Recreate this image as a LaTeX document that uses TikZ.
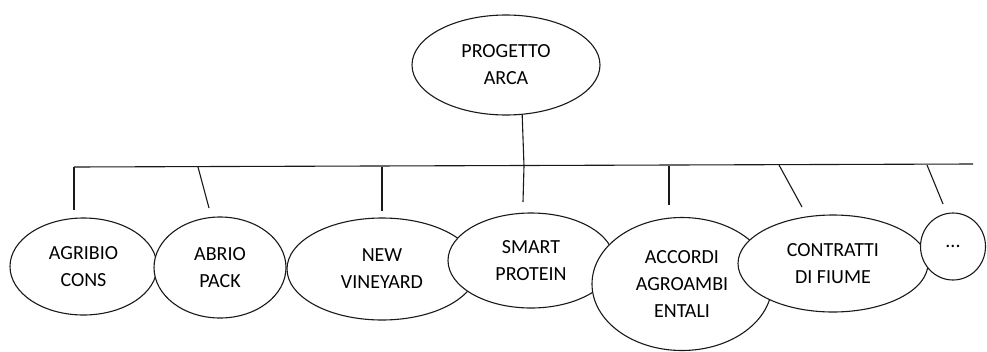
\documentclass[tikz,border=0pt]{standalone}
\usepackage{fontspec}
\setmainfont{Carlito}
\usetikzlibrary{shapes.geometric}
\begin{document}
\begin{tikzpicture}[x=1pt,y=-1pt,
  bubble/.style={ellipse,draw=black!90,line width=1.1pt,fill=white,inner sep=0pt,
    align=center,font=\fontsize{20}{27}\selectfont,text=black},
  link/.style={draw=black!90,line width=1.1pt}]
\useasboundingbox (0,0) rectangle (987,351);

% root of the tree
\node[bubble,minimum width=188pt,minimum height=100pt] (root) at (506,65) {PROGETTO\\ARCA};

% horizontal bar and the points where the drops leave it
\coordinate (barL) at (74,167);
\coordinate (barR) at (973,164);
\coordinate (hub)  at (524,166);
\coordinate (a1) at (74,167);   \coordinate (b1) at (74,210);
\coordinate (a2) at (198,167);  \coordinate (b2) at (209,208);
\coordinate (a3) at (382,167);  \coordinate (b3) at (382,211);
\coordinate (b4) at (523,202);
\coordinate (a5) at (669,166);  \coordinate (b5) at (669,205);
\coordinate (a6) at (779,165);  \coordinate (b6) at (802,207);
\coordinate (a7) at (927,165);  \coordinate (b7) at (943,204);

\draw[link] (barL) -- (barR);
\draw[link] (root.-72) -- (hub) -- (b4);
\draw[link] (a1) -- (b1);
\draw[link] (a2) -- (b2);
\draw[link] (a3) -- (b3);
\draw[link] (a5) -- (b5);
\draw[link] (a6) -- (b6);
\draw[link] (a7) -- (b7);

% children, left to right, each one covering the previous
\node[bubble,minimum width=147pt,minimum height=97pt]  (agribio)   at (83.5,266.5) {AGRIBIO\\CONS};
\node[bubble,minimum width=132pt,minimum height=101pt] (abrio)     at (220,267.5)  {ABRIO\\PACK};
\node[bubble,minimum width=190pt,minimum height=102pt] (vineyard)  at (382,269)    {NEW\\VINEYARD};
\node[bubble,minimum width=166pt,minimum height=95pt]  (protein)   at (531,260.5)  {SMART\\PROTEIN};
\node[bubble,minimum width=180pt,minimum height=133pt] (accordi)   at (682,284)    {ACCORDI\\AGROAMBI\\ENTALI};
\node[bubble,minimum width=190pt,minimum height=97pt]  (contratti) at (833,263.5)  {CONTRATTI\\DI FIUME};
\node[bubble,minimum width=65pt,minimum height=67pt]   (more)      at (953,246.5)  {...};
\end{tikzpicture}
\end{document}
